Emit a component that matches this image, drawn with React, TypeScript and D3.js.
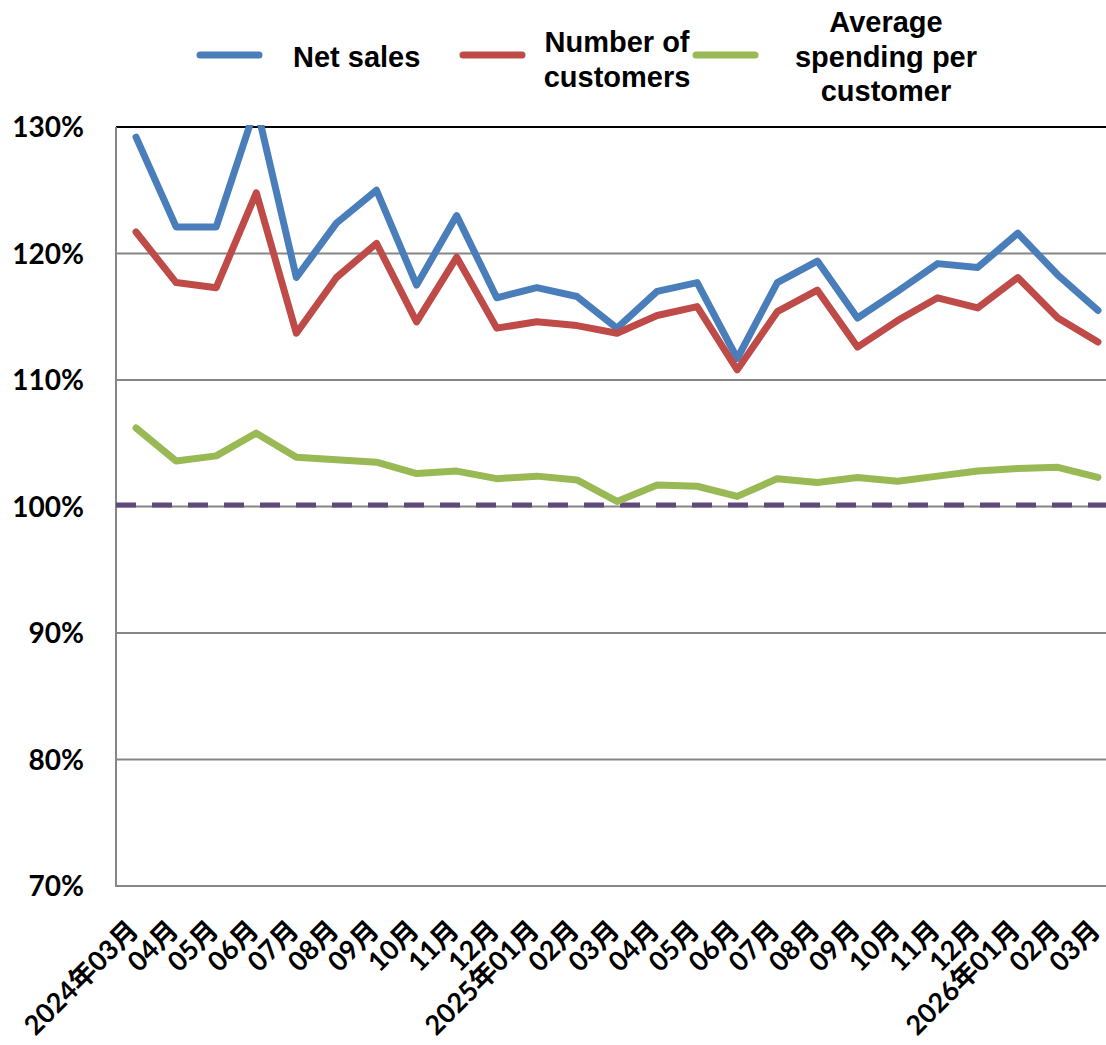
import * as d3 from 'd3';

// month labels along the bottom
const months = [
  '2024年03月', '04月', '05月', '06月', '07月', '08月', '09月', '10月', '11月', '12月',
  '2025年01月', '02月', '03月', '04月', '05月', '06月', '07月', '08月', '09月', '10月', '11月', '12月',
  '2026年01月', '02月', '03月',
];

// year-over-year ratios, %
const netSales = [
  129.2, 122.1, 122.1, 131.7, 118.1, 122.4, 125.0, 117.5, 123.0, 116.5,
  117.3, 116.6, 114.1, 117.0, 117.7, 111.7, 117.7, 119.4, 114.9, 117.0, 119.2, 118.9,
  121.6, 118.3, 115.5,
];
const customers = [
  121.7, 117.7, 117.3, 124.8, 113.7, 118.1, 120.8, 114.6, 119.7, 114.1,
  114.6, 114.3, 113.7, 115.1, 115.8, 110.8, 115.4, 117.1, 112.6, 114.7, 116.5, 115.7,
  118.1, 114.9, 113.0,
];
const spending = [
  106.2, 103.6, 104.0, 105.8, 103.9, 103.7, 103.5, 102.6, 102.8, 102.2,
  102.4, 102.1, 100.4, 101.7, 101.6, 100.8, 102.2, 101.9, 102.3, 102.0, 102.4, 102.8,
  103.0, 103.1, 102.3,
];
const yTicks = [70, 80, 90, 100, 110, 120, 130];
const baseline = 100;

const series = [
  { key: 'sales', lines: ['Net sales'], values: netSales, color: '#4A7EBB' },
  { key: 'cust', lines: ['Number of', 'customers'], values: customers, color: '#BE4B48' },
  { key: 'spend', lines: ['Average', 'spending per', 'customer'], values: spending, color: '#98B954' },
];

const W = 1106;
const H = 1045;
const plot = { left: 116, right: 1118, top: 127, bottom: 886 };
const numFont = "Lato, 'Noto Sans CJK JP', sans-serif";
const legendFont = "'Liberation Sans', Arial, sans-serif";

export default function App() {
  // months repeat (04月 twice etc.), so the scale works on indices
  const idx = months.map((_, i) => i);
  const x = d3.scalePoint<number>().domain(idx).range([plot.left, plot.right]).padding(0.5);
  const y = d3.scaleLinear().domain([70, 130]).range([plot.bottom, plot.top]);

  const line = d3.line<number>()
    .x((_, i) => x(i) as number)
    .y(d => y(d));

  // legend layout: swatch start, text position
  const legend = [
    { swatch: 197, text: 293, anchor: 'start', ys: [67] },
    { swatch: 460, text: 617, anchor: 'middle', ys: [52, 87] },
    { swatch: 693, text: 886, anchor: 'middle', ys: [32, 67, 101] },
  ];

  return (
    <svg width={W} height={H} style={{ display: 'block', position: 'absolute', left: 0, top: 0 }}>
      <rect width={W} height={H} fill="#fff" />
      <defs>
        <clipPath id="plot-clip">
          <rect x={plot.left} y={plot.top - 2} width={plot.right - plot.left} height={plot.bottom - plot.top + 4} />
        </clipPath>
      </defs>

      {/* grid */}
      {yTicks.map(t => (
        <line key={t} x1={plot.left} x2={plot.right} y1={y(t)} y2={y(t)}
          stroke={t === 130 ? '#000' : '#868686'} strokeWidth={2} />
      ))}
      <line x1={plot.left} x2={plot.left} y1={plot.top} y2={plot.bottom + 1} stroke="#868686" strokeWidth={2} />

      {/* y labels */}
      {yTicks.map(t => (
        <text key={t} x={84} y={y(t)} dy="0.36em" textAnchor="end"
          fontFamily={numFont} fontWeight="bold" fontSize={28} fill="#000">
          {t}%
        </text>
      ))}

      {/* 100% reference */}
      <line x1={plot.left} x2={plot.right} y1={y(baseline) - 1.5} y2={y(baseline) - 1.5}
        stroke="#604A7B" strokeWidth={5} strokeDasharray="20 16" />

      <g clipPath="url(#plot-clip)">
        {series.map(s => (
          <path key={s.key} d={line(s.values) ?? ''} fill="none" stroke={s.color}
            strokeWidth={7} strokeLinejoin="round" strokeLinecap="round" />
        ))}
      </g>

      {/* x labels */}
      {months.map((m, i) => (
        <text key={i} transform={`translate(${(x(i) as number) + 4},${932}) rotate(-45)`}
          textAnchor="end" fontFamily={numFont} fontWeight="bold" fontSize={27} fill="#000">
          {m}
        </text>
      ))}

      {/* legend */}
      {series.map((s, i) => (
        <g key={s.key}>
          <line x1={legend[i].swatch + 3} x2={legend[i].swatch + 62} y1={55} y2={55}
            stroke={s.color} strokeWidth={7} strokeLinecap="round" />
          {s.lines.map((l, j) => (
            <text key={l} x={legend[i].text} y={legend[i].ys[j]} textAnchor={legend[i].anchor}
              fontFamily={legendFont} fontWeight="bold" fontSize={29} fill="#000">
              {l}
            </text>
          ))}
        </g>
      ))}
    </svg>
  );
}
